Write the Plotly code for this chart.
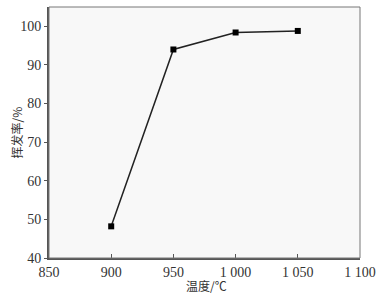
import plotly.graph_objects as go

temps = [900, 950, 1000, 1050]
rates = [48.2, 94.0, 98.4, 98.8]
xtick_vals = [850, 900, 950, 1000, 1050, 1100]
xtick_text = ["850", "900", "950", "1 000", "1 050", "1 100"]
ytick_vals = [40, 50, 60, 70, 80, 90, 100]

font_serif = "Liberation Serif, Times New Roman, serif"
tick_font = dict(family=font_serif, size=14, color="#333333")
cjk_font = dict(family="Noto Sans CJK SC", size=12, color="#333333")

fig = go.Figure()
fig.add_trace(go.Scatter(
    x=temps, y=rates, mode="lines+markers",
    line=dict(color="#222222", width=1.5),
    marker=dict(symbol="square", size=6, color="#000000"),
    showlegend=False, cliponaxis=False,
))

fig.update_layout(
    width=386, height=296,
    margin=dict(l=49, r=26, t=7, b=38),
    paper_bgcolor="white",
    plot_bgcolor="#f8f8f8",
    font=tick_font,
    shapes=[dict(type="rect", xref="paper", yref="paper", x0=0, y0=0, x1=1, y1=1,
                 line=dict(color="#777777", width=1))],
)
fig.update_xaxes(
    range=[850, 1100], tickvals=xtick_vals, ticktext=xtick_text,
    ticks="inside", ticklen=4, tickcolor="#555555",
    showgrid=False, zeroline=False, automargin=False,
    showline=True, linecolor="#555555", linewidth=2,
    tickfont=tick_font,
)
fig.update_yaxes(
    range=[40, 105], tickvals=ytick_vals,
    ticks="outside", ticklen=3, tickcolor="#555555",
    showgrid=False, zeroline=False, automargin=False,
    showline=True, linecolor="#555555", linewidth=2,
    tickfont=tick_font,
)
fig.add_annotation(x=0.5, y=0, xref="paper", yref="paper", text="温度/℃", showarrow=False,
                   yanchor="middle", yshift=-27, xshift=2, font=cjk_font)
fig.add_annotation(x=0, y=0.5, xref="paper", yref="paper", text="挥发率/%", showarrow=False,
                   textangle=-90, xanchor="center", yanchor="middle", xshift=-33, font=cjk_font)
fig.write_html("out.html", config={"displayModeBar": False},
               post_script="document.body.style.margin='0';document.body.style.overflow='hidden';")
